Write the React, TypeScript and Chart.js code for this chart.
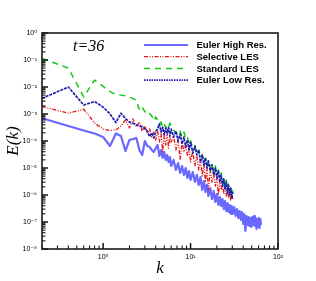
import React, { useEffect, useRef } from 'react';
import { Chart, registerables } from 'chart.js';

Chart.register(...registerables);

// wavenumbers
const kLow = [
  0.2, 0.4, 0.6, 0.8, 1.0, 1.2, 1.4, 1.6, 1.8, 2.0, 2.2, 2.4, 2.6, 2.8, 3.0, 3.2, 3.4, 3.6, 3.8, 4.0,
  4.2, 4.4, 4.6, 4.8, 5.0, 5.2, 5.4, 5.6, 5.8, 6.0,
  6.4, 6.8, 7.2, 7.6, 8.0, 8.4, 8.8, 9.2, 9.6, 10.0,
  10.6, 11.2, 11.8, 12.4, 13.0, 13.6, 14.2, 14.8, 15.4, 16.0,
  16.8, 17.6, 18.4, 19.2, 20.0, 20.8, 21.6, 22.4, 23.2, 24.0, 24.8, 25.6, 26.4, 27.2, 28.0, 28.8, 29.6, 30.4,
];
const kHigh = [
  0.2, 0.4, 0.6, 0.8, 1.0, 1.2, 1.4, 1.6, 1.8, 2.0, 2.2, 2.4, 2.6, 2.8, 3.0, 3.2, 3.4, 3.6, 3.8, 4.0,
  4.2, 4.4, 4.6, 4.8, 5.0, 5.2, 5.4, 5.6, 5.8, 6.0,
  6.4, 6.8, 7.2, 7.6, 8.0, 8.4, 8.8, 9.2, 9.6, 10.0,
  10.6, 11.2, 11.8, 12.4, 13.0, 13.6, 14.2, 14.8, 15.4, 16.0,
  16.8, 17.6, 18.4, 19.2, 20.0, 20.8, 21.6, 22.4, 23.2, 24.0, 24.8, 25.6, 26.4, 27.2, 28.0, 28.8, 29.6, 30.4,
  31.6, 32.8, 34.0, 35.2, 36.4, 37.6, 38.8, 40.0, 41.2, 42.4, 43.6, 44.8, 46.0, 47.2, 48.4, 49.6,
  50.8, 52.0, 53.2, 54.4, 55.6, 56.8, 58.0, 59.2, 60.4, 61.6, 62.8, 64.0,
];

// E(k) series
const eulerHighRes = [
  7.0e-4, 3.59e-4, 2.45e-4, 1.9e-4, 1.41e-4, 6.53e-5, 1.9e-4, 1.53e-4, 4.26e-5, 1.09e-4,
  1.19e-4, 1.29e-4, 4.64e-5, 3.03e-5, 1.0e-4, 6.53e-5, 6.0e-5, 4.64e-5, 3.92e-5, 5.51e-5,
  7.11e-5, 2.78e-5, 4.64e-5, 2.35e-5, 3.92e-5, 1.98e-5, 3.03e-5, 1.67e-5, 2.55e-5, 1.19e-5,
  1.98e-5, 8.43e-6, 1.53e-5, 6.53e-6, 1.19e-5, 5.51e-6, 1.0e-5, 4.26e-6, 7.74e-6, 3.59e-6,
  7.11e-6, 3.03e-6, 5.51e-6, 2.35e-6, 4.64e-6, 1.53e-6, 3.30e-6, 1.29e-6, 2.35e-6, 9.18e-7,
  1.82e-6, 7.11e-7, 1.41e-6, 5.51e-7, 1.09e-6, 4.26e-7, 8.43e-7, 3.92e-7, 7.11e-7, 3.03e-7,
  5.99e-7, 2.55e-7, 5.06e-7, 2.35e-7, 4.26e-7, 1.98e-7, 3.92e-7, 1.98e-7,
  3.59e-7, 1.67e-7, 3.03e-7, 1.41e-7, 2.55e-7, 1.19e-7, 2.35e-7, 8.43e-8, 1.98e-7, 4.64e-8,
  1.67e-7, 7.74e-8, 1.53e-7, 7.11e-8, 1.41e-7, 6.53e-8, 1.53e-7, 7.74e-8, 1.67e-7, 7.11e-8,
  1.41e-7, 5.51e-8, 1.29e-7, 6.53e-8, 1.41e-7, 5.99e-8, 1.29e-7, 7.74e-8,
];
const selectiveLES = [
  1.9e-3, 1.07e-3, 1.5e-3, 4.64e-4, 2.78e-4, 2.45e-4, 2.55e-4, 3.59e-4, 5.99e-4, 3.03e-4,
  6.53e-4, 3.30e-4, 5.06e-4, 2.35e-4, 3.59e-4, 1.98e-4, 2.78e-4, 1.41e-4, 2.15e-4, 1.09e-4,
  2.35e-4, 9.18e-5, 1.98e-4, 3.92e-5, 1.53e-4, 7.11e-5, 1.82e-4, 5.51e-5, 1.41e-4, 9.18e-5,
  1.53e-4, 4.64e-5, 1.09e-4, 1.98e-5, 9.18e-5, 3.92e-5, 7.11e-5, 2.78e-5, 5.51e-5, 1.67e-5,
  4.26e-5, 1.19e-5, 2.78e-5, 8.43e-6, 1.98e-5, 5.06e-6, 1.41e-5, 3.03e-6, 1.0e-5, 1.53e-6,
  8.43e-6, 3.03e-6, 5.99e-6, 2.15e-6, 4.64e-6, 1.0e-6, 3.30e-6, 1.53e-6, 2.55e-6, 1.09e-6,
  1.98e-6, 9.18e-7, 1.53e-6, 8.43e-7, 1.19e-6, 6.53e-7, 1.0e-6, 7.11e-7,
];
const standardLES = [
  1.15e-1, 5.0e-2, 4.3e-3, 1.8e-2, 1.05e-2, 6.7e-3, 5.3e-3, 5.0e-3, 4.7e-3, 4.2e-3,
  3.7e-3, 3.3e-3, 1.4e-3, 1.8e-3, 1.2e-3, 1.35e-3, 1.07e-3, 8.5e-4, 5.5e-4, 7.8e-4,
  5.99e-4, 4.26e-4, 5.06e-4, 3.30e-4, 4.26e-4, 3.03e-4, 3.92e-4, 3.30e-4, 4.64e-4, 3.59e-4,
  2.55e-4, 1.98e-4, 1.67e-4, 2.35e-4, 1.41e-4, 2.15e-4, 1.29e-4, 1.53e-4, 7.11e-5, 1.0e-4,
  5.51e-5, 6.53e-5, 3.30e-5, 4.64e-5, 2.35e-5, 3.03e-5, 1.67e-5, 2.35e-5, 1.19e-5, 1.82e-5,
  1.0e-5, 1.53e-5, 7.11e-6, 1.19e-5, 5.51e-6, 8.43e-6, 4.64e-6, 6.53e-6, 3.03e-6, 4.64e-6,
  2.15e-6, 3.59e-6, 1.53e-6, 2.55e-6, 1.19e-6, 1.98e-6, 9.18e-7, 1.53e-6,
];
const eulerLowRes = [
  3.8e-3, 1.0e-2, 2.15e-3, 2.9e-3, 1.8e-3, 1.0e-3, 4.8e-4, 1.07e-3, 6.8e-4, 5.0e-4,
  4.5e-4, 3.9e-4, 3.6e-4, 3.4e-4, 2.8e-4, 2.3e-4, 1.45e-4, 2.0e-4, 1.3e-4, 2.3e-4,
  2.78e-4, 4.27e-4, 2.15e-4, 3.30e-4, 1.67e-4, 3.03e-4, 1.98e-4, 3.30e-4, 1.53e-4, 2.78e-4,
  1.41e-4, 2.34e-4, 1.00e-4, 1.82e-4, 7.74e-5, 1.41e-4, 6.00e-5, 1.09e-4, 4.64e-5, 9.18e-5,
  3.60e-5, 6.53e-5, 3.03e-5, 4.64e-5, 1.67e-5, 3.03e-5, 1.29e-5, 2.34e-5, 1.00e-5, 1.82e-5,
  7.74e-6, 1.29e-5, 5.51e-6, 1.00e-5, 4.27e-6, 7.74e-6, 3.03e-6, 5.51e-6, 2.15e-6, 3.92e-6,
  1.67e-6, 3.03e-6, 1.19e-6, 2.34e-6, 1.00e-6, 1.82e-6, 7.74e-7, 1.29e-6,
];

const seriesLabels = ['Euler High Res.', 'Selective LES', 'Standard LES', 'Euler Low Res.'];
const yDecadeTicks = [1e-8, 1e-7, 1e-6, 1e-5, 1e-4, 1e-3, 1e-2, 1e-1, 1];
const xDecadeTicks = [1, 10, 100];
const xMinorDecades = [0.1, 1, 10];
const annotationText = 't=36';
const xTitle = 'k';
const yTitle = 'E(k)';

const SUP: Record<string, string> = {
  '-': '\u207B', '0': '\u2070', '1': '\u00B9', '2': '\u00B2', '3': '\u00B3', '4': '\u2074',
  '5': '\u2075', '6': '\u2076', '7': '\u2077', '8': '\u2078', '9': '\u2079',
};
function pow10Label(v: number): string {
  const e = Math.round(Math.log10(v));
  return '10' + String(e).split('').map((c) => SUP[c] || c).join('');
}

const tickFont = { family: '"Liberation Sans", "DejaVu Sans", Arial, sans-serif', size: 7 };
const titleFont = { family: '"Liberation Serif", "Times New Roman", serif', size: 17, style: 'italic' as const };

const decorPlugin = {
  id: 'decor',
  afterDatasetsDraw(chart: any) {
    const { ctx, chartArea: a, scales } = chart;
    const xs = scales.x;
    const ys = scales.y;
    ctx.save();
    ctx.strokeStyle = '#000';
    const line = (x1: number, y1: number, x2: number, y2: number) => {
      ctx.beginPath();
      ctx.moveTo(x1, y1);
      ctx.lineTo(x2, y2);
      ctx.stroke();
    };
    // y-axis inward ticks
    yDecadeTicks.forEach((v, i) => {
      const py = ys.getPixelForValue(v);
      ctx.lineWidth = 1.4;
      line(a.left, py, a.left + 6, py);
      if (i < yDecadeTicks.length - 1) {
        ctx.lineWidth = 1;
        for (let m = 2; m <= 9; m++) {
          const p = ys.getPixelForValue(v * m);
          line(a.left, p, a.left + 3.5, p);
        }
      }
    });
    // x-axis inward ticks
    xMinorDecades.forEach((d) => {
      for (let m = 1; m <= 9; m++) {
        const v = d * m;
        if (v < xs.min - 1e-9 || v > xs.max + 1e-9) continue;
        const px = xs.getPixelForValue(v);
        ctx.lineWidth = m === 1 ? 1.4 : 1;
        line(px, a.bottom, px, a.bottom - (m === 1 ? 6 : 3.5));
      }
    });
    {
      const px = xs.getPixelForValue(100);
      ctx.lineWidth = 1.4;
      line(px, a.bottom, px, a.bottom - 6);
    }
    // frame
    ctx.lineWidth = 1.6;
    ctx.strokeStyle = '#1c1c1c';
    ctx.strokeRect(a.left, a.top, a.right - a.left, a.bottom - a.top);

    // annotation
    ctx.fillStyle = '#000';
    ctx.font = 'italic 16px "Liberation Serif", "Times New Roman", serif';
    ctx.textBaseline = 'alphabetic';
    ctx.textAlign = 'left';
    ctx.fillText(annotationText, a.left + 31, a.top + 18);

    // legend
    const ds = chart.data.datasets;
    ctx.font = 'bold 9.5px "Liberation Sans", Arial, sans-serif';
    ctx.textBaseline = 'middle';
    ds.forEach((d: any, i: number) => {
      const yy = a.top + 12 + i * 11.7;
      ctx.save();
      ctx.strokeStyle = d.borderColor;
      ctx.lineWidth = Math.min(d.borderWidth, 1.8);
      ctx.setLineDash(d.legendDash || d.borderDash || []);
      line(a.left + 102, yy, a.left + 146, yy);
      ctx.restore();
      ctx.fillStyle = '#000';
      ctx.fillText(d.label, a.left + 154.5, yy + 0.5);
    });
    ctx.restore();
  },
};

export default function App() {
  const ref = useRef<HTMLCanvasElement | null>(null);
  useEffect(() => {
    if (!ref.current) return;
    const mk = (ks: number[], es: number[]) => ks.map((k, i) => ({ x: k, y: es[i] }));
    const common = { pointRadius: 0, tension: 0, borderJoinStyle: 'round' as const, fill: false };
    const chart = new Chart(ref.current, {
      type: 'line',
      data: {
        datasets: [
          { ...common, label: seriesLabels[0], data: mk(kHigh, eulerHighRes), borderColor: 'rgb(105,105,255)', borderWidth: 2.2, borderDash: [], order: 3 },
          { ...common, label: seriesLabels[1], data: mk(kLow, selectiveLES), borderColor: 'rgb(228,20,20)', borderWidth: 1.3, borderDash: [4, 1.5, 1, 1.5, 1, 1.5], order: 1 },
          { ...common, label: seriesLabels[2], data: mk(kLow, standardLES), borderColor: 'rgb(20,200,20)', borderWidth: 1.5, borderDash: [6, 5], order: 2 },
          { ...common, label: seriesLabels[3], data: mk(kLow, eulerLowRes), borderColor: 'rgb(30,30,175)', borderWidth: 1.7, borderDash: [3, 1], legendDash: [1.5, 1], order: 0 },
        ],
      },
      options: {
        animation: false,
        responsive: false,
        devicePixelRatio: 1,
        layout: { padding: { top: 33, right: 38, left: 0, bottom: 0 } },
        plugins: { legend: { display: false }, tooltip: { enabled: false } },
        scales: {
          x: {
            type: 'logarithmic',
            min: 0.2,
            max: 100,
            afterFit: (s: any) => { s.height = 32; },
            afterBuildTicks: (s: any) => { s.ticks = xDecadeTicks.map((v) => ({ value: v })); },
            ticks: { callback: (v: any) => pow10Label(Number(v)), autoSkip: false, maxRotation: 0, font: tickFont, color: '#000', padding: 4 },
            grid: { display: false, drawTicks: false },
            border: { display: false },
            title: { display: true, text: xTitle, font: titleFont, color: '#000', padding: { top: 0, bottom: 2 } },
          },
          y: {
            type: 'logarithmic',
            min: 1e-8,
            max: 1,
            afterFit: (s: any) => { s.width = 42; },
            afterBuildTicks: (s: any) => { s.ticks = yDecadeTicks.map((v) => ({ value: v })); },
            ticks: { callback: (v: any) => pow10Label(Number(v)), autoSkip: false, font: tickFont, color: '#000', padding: 5 },
            grid: { display: false, drawTicks: false },
            border: { display: false },
            title: { display: true, text: yTitle, font: titleFont, color: '#000', padding: { top: 3, bottom: 0 } },
          },
        },
      },
      plugins: [decorPlugin],
    } as any);
    return () => chart.destroy();
  }, []);
  return (
    <div style={{ position: 'fixed', left: 0, top: 0, width: 316, height: 281, background: '#fff' }}>
      <canvas ref={ref} width={316} height={281} style={{ display: 'block' }} />
    </div>
  );
}
